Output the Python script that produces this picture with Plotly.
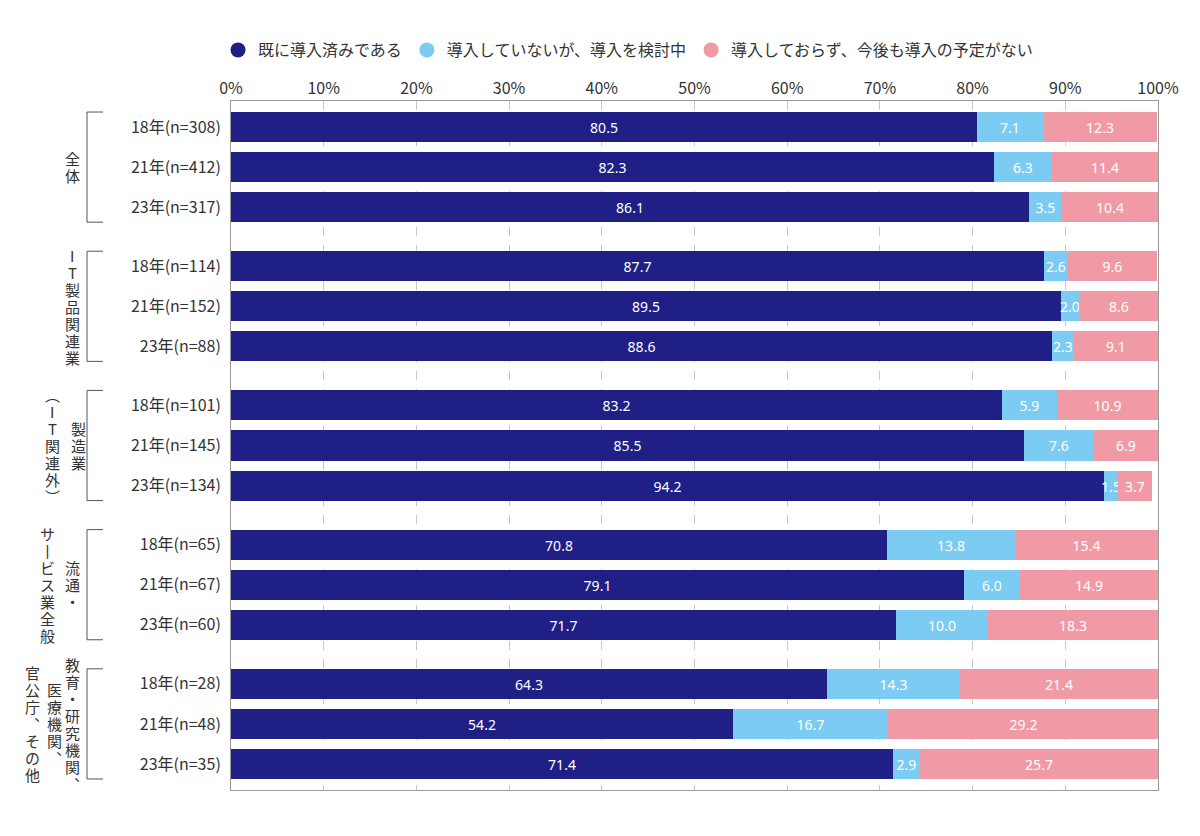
import plotly.graph_objects as go

# 回答データ (%)
groups = ["全体", "IT製品関連業", "製造業(IT関連外)", "流通・サービス業全般", "教育・研究機関、医療機関、官公庁、その他"]
row_labels = [
    "18年(n=308)", "21年(n=412)", "23年(n=317)",
    "18年(n=114)", "21年(n=152)", "23年(n=88)",
    "18年(n=101)", "21年(n=145)", "23年(n=134)",
    "18年(n=65)", "21年(n=67)", "23年(n=60)",
    "18年(n=28)", "21年(n=48)", "23年(n=35)",
]
done = [80.5, 82.3, 86.1, 87.7, 89.5, 88.6, 83.2, 85.5, 94.2, 70.8, 79.1, 71.7, 64.3, 54.2, 71.4]
considering = [7.1, 6.3, 3.5, 2.6, 2.0, 2.3, 5.9, 7.6, 1.5, 13.8, 6.0, 10.0, 14.3, 16.7, 2.9]
no_plan = [12.3, 11.4, 10.4, 9.6, 8.6, 9.1, 10.9, 6.9, 3.7, 15.4, 14.9, 18.3, 21.4, 29.2, 25.7]

series_names = ["既に導入済みである", "導入していないが、導入を検討中", "導入しておらず、今後も導入の予定がない"]
colors = ["#1f1f86", "#7ccbf2", "#f09aa6"]

# 縦書きのグループ名 (右の列から順に)
group_cols = [
    ["全体"],
    ["IT製品関連業"],
    ["製造業", "︵IT関連外︶"],
    ["流通・", "サ丨ビス業全般"],
    ["教育・研究機関︑", "医療機関︑", "官公庁︑その他"],
]
col_x_px = [[72], [72], [78, 52], [72, 47], [72, 54, 32]]

gap = 0.475
ypos = [g * (3 + gap) + r for g in range(5) for r in range(3)]

# pixel layout (screen px; page body has an 8px margin)
OFF = 8
L, R, T, B = 231 - OFF, 1158 - OFF, 101 - OFF, 790 - OFF
W, H = 1200 - 2 * OFF, 836 - 2 * OFF


def px_to_paper(px):
    return (px - OFF - L) / (R - L)


fig = go.Figure()
for name, vals, c in zip(series_names, [done, considering, no_plan], colors):
    fig.add_trace(go.Bar(
        y=ypos, x=vals, orientation="h", marker=dict(color=c, line=dict(width=0)),
        width=0.75, text=[f"{v:.1f}" for v in vals], textposition="inside",
        insidetextanchor="middle", constraintext="none", textangle=0,
        textfont=dict(color="white", size=14, family="Noto Sans"), showlegend=False, name=name,
        hoverinfo="x+name",
    ))
    # 凡例用の丸
    fig.add_trace(go.Scatter(
        x=[None], y=[None], mode="markers", name=name,
        marker=dict(color=c, size=15, symbol="circle"),
    ))

char_h = 17 / 40.0
for g in range(5):
    center = ypos[g * 3 + 1]
    for col, xp in zip(group_cols[g], col_x_px[g]):
        n = len(col)
        for i, ch in enumerate(col):
            yy = center + (i - (n - 1) / 2) * char_h
            fig.add_annotation(x=px_to_paper(xp), xref="paper", y=yy, yref="y",
                               text=ch, showarrow=False, xanchor="center", yanchor="middle",
                               font=dict(size=15, color="#333333"))
    # ブラケット
    top = ypos[g * 3] - 0.375
    bot = ypos[g * 3 + 2] + 0.375
    x0 = px_to_paper(87)
    x1 = px_to_paper(103)
    fig.add_shape(type="line", xref="paper", yref="y", x0=x0, x1=x0, y0=top, y1=bot,
                  line=dict(color="#555555", width=1))
    fig.add_shape(type="line", xref="paper", yref="y", x0=x0, x1=x1, y0=top, y1=top,
                  line=dict(color="#555555", width=1))
    fig.add_shape(type="line", xref="paper", yref="y", x0=x0, x1=x1, y0=bot, y1=bot,
                  line=dict(color="#555555", width=1))

fig.update_layout(
    barmode="stack",
    width=W, height=H,
    margin=dict(l=L, r=W - R, t=T, b=H - B, autoexpand=False),
    plot_bgcolor="white", paper_bgcolor="white",
    font=dict(family="Noto Sans CJK JP", color="#333333"),
    legend=dict(orientation="h", x=-0.014, xanchor="left", y=1 + (T - (50 - OFF)) / (B - T), yanchor="middle",
                font=dict(size=16, color="#333333"), traceorder="normal", tracegroupgap=0),
    bargap=0,
)
fig.update_xaxes(
    range=[0, 100], side="top", tickvals=list(range(0, 101, 10)),
    ticktext=[f"{v}%" for v in range(0, 101, 10)], tickfont=dict(size=16, color="#333333"),
    showgrid=True, gridcolor="#c8c8c8", griddash="dash", gridwidth=1,
    showline=True, linecolor="#9a9a9a", linewidth=1, mirror=True, zeroline=False,
    ticks="", fixedrange=True, automargin=False,
)
fig.update_yaxes(
    range=[ypos[-1] + 0.65, -0.65], tickvals=ypos, ticktext=row_labels,
    tickfont=dict(size=16, color="#333333"), showgrid=False,
    showline=True, linecolor="#9a9a9a", linewidth=1, mirror=True, zeroline=False,
    ticks="", ticklabelstandoff=6, automargin=False,
)

fig.write_html("out.html")
